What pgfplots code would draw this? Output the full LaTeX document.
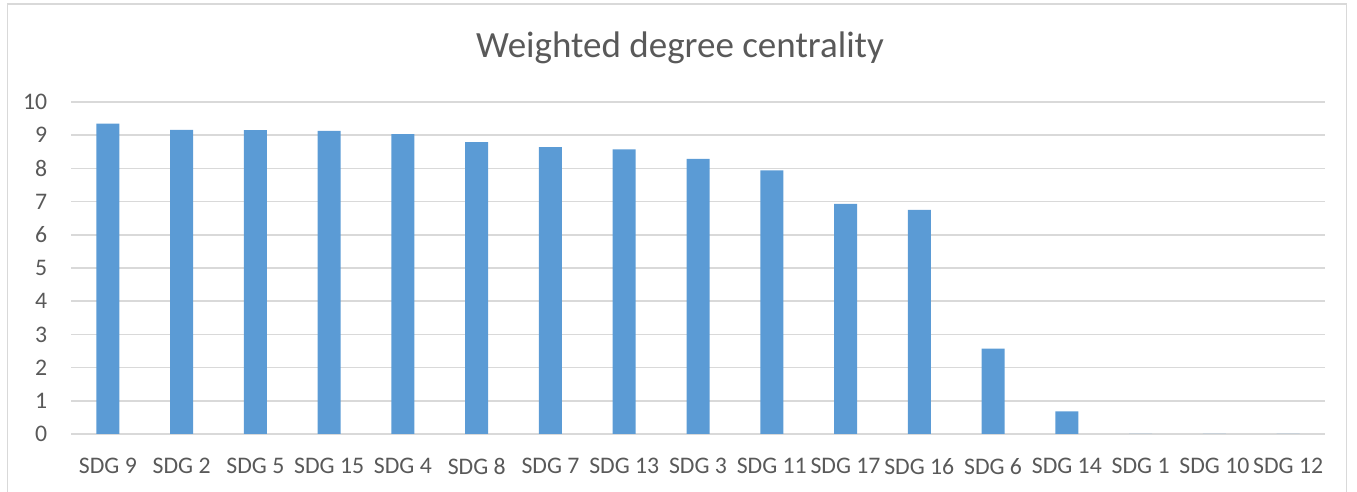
\documentclass[border=0pt]{standalone}
\usepackage{fontspec}
\setmainfont{Carlito}
\usepackage{pgfplots}
\pgfplotsset{compat=1.18}

\definecolor{barblue}{HTML}{5B9BD5}
\definecolor{txtgray}{HTML}{595959}
\definecolor{gridgray}{HTML}{D9D9D9}

\begin{document}
\begin{tikzpicture}
  % page area and clipping
  \path[use as bounding box, clip] (0pt,0pt) rectangle (542.8pt,196.8pt);
  % chart frame
  \draw[gridgray, line width=0.6pt] (2.9pt,-5pt) rectangle (538.5pt,195.2pt);
  % chart title
  \node[anchor=base, inner sep=0pt, text=txtgray, font=\fontsize{14.8}{17}\selectfont]
    at (272pt,173.8pt) {Weighted degree centrality};

  \begin{axis}[
    at={(28.4pt,23.2pt)}, anchor=south west,
    scale only axis, width=501.6pt, height=132.8pt,
    xmin=-0.5, xmax=16.5, ymin=0, ymax=10,
    xtick={0,...,16},
    xticklabels={SDG 9,SDG 2,SDG 5,SDG 15,SDG 4,SDG 8,SDG 7,SDG 13,SDG 3,SDG 11,SDG 17,SDG 16,SDG 6,SDG 14,SDG 1,SDG 10,SDG 12},
    ytick={0,1,...,10},
    /pgf/number format/assume math mode=true,
    axis line style={draw=none},
    tick style={draw=none},
    ymajorgrids,
    grid style={gridgray, line width=0.7pt},
    ticklabel style={text=txtgray, font=\fontsize{9.5}{11}\selectfont},
    yticklabel style={anchor=east, inner sep=0pt, xshift=-9.3pt},
    xticklabel style={anchor=north, inner sep=0pt, yshift=-9.5pt},
    clip=false,
  ]
    \addplot[ybar, bar width=9.2pt, bar shift=0pt, fill=barblue, draw=none]
      coordinates {
        (0,9.35) (1,9.16) (2,9.15) (3,9.13) (4,9.03) (5,8.79)
        (6,8.64) (7,8.57) (8,8.29) (9,7.94) (10,6.93) (11,6.75)
        (12,2.57) (13,0.68) (14,0) (15,0) (16,0)
      };
  \end{axis}
\end{tikzpicture}
\end{document}
